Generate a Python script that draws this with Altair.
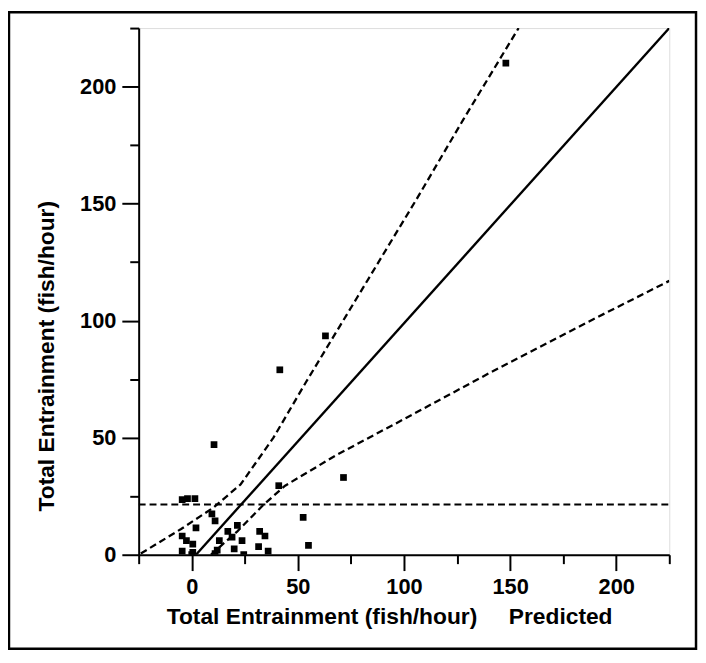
import altair as alt
import pandas as pd

# Observed vs predicted entrainment (fish/hour)
obs_x = [148, 63, 41.5, 10.5, 41, 71.5, 52.5, 55, -4.5, -2, 1.5, 9.5, 11, 2, -4.5, -2.5,
         0.5, -4.5, 0.5, 17, 21.5, 13, 19, 20, 12, 23.7, 32, 34.5, 31.5, 36, 0, 11, 24.5]
obs_y = [210, 93.5, 79, 47, 29.5, 33, 16, 4, 23.5, 24, 24, 17.5, 14.5, 11.5, 8, 6,
         4.5, 1.5, 1, 10, 12.5, 6, 7.5, 2.5, 2, 6, 10, 8, 3.5, 1.5, 0, 0.5, 0]

# 1:1 line
solid_x = [2, 225]
solid_y = [0, 225]

# upper and lower dashed limits
upper_x = [-24, -5, 10, 23, 38.5, 54, 78, 106, 128, 154]
upper_y = [0.5, 11, 20, 30, 50, 74, 110, 152, 186, 225]
lower_x = [9, 21.5, 34, 44, 68, 96, 140, 189, 225]
lower_y = [0, 10, 21.5, 29.5, 42.5, 56, 77.5, 100.5, 117]

# horizontal dashed reference
hline_x = [-25, 225]
hline_y = [21.5, 21.5]

x_ticks = [-25, 0, 25, 50, 75, 100, 125, 150, 175, 200, 225]
y_ticks = [0, 25, 50, 75, 100, 125, 150, 175, 200, 225]

FONT = "Liberation Sans"
NB = "\u00a0"

pts = pd.DataFrame({"x": obs_x, "y": obs_y})
solid = pd.DataFrame({"x": solid_x, "y": solid_y})
upper = pd.DataFrame({"x": upper_x, "y": upper_y})
lower = pd.DataFrame({"x": lower_x, "y": lower_y})
hline = pd.DataFrame({"x": hline_x, "y": hline_y})

major_test = "datum.value % 50 === 0"

xscale = alt.Scale(domain=[-25, 225], nice=False, zero=False)
yscale = alt.Scale(domain=[0, 225], nice=False, zero=False)

xaxis = alt.Axis(
    values=x_ticks,
    title="Total Entrainment (fish/hour)" + NB * 5 + "Predicted",
    labelExpr=f"{major_test} ? datum.label : ''",
    tickSize={"condition": {"test": major_test, "value": 16}, "value": 9},
    grid=False, domainColor="black", domainWidth=2, tickColor="black", tickWidth=2,
    labelFont=FONT, labelFontSize=22, labelFontWeight="bold", labelColor="black",
    labelPadding=6, titleFont=FONT, titleFontSize=23, titleFontWeight="bold",
    titleColor="black", titleX=253, titleY=62, titleBaseline="middle",
    titleAnchor="middle", titleAlign="center", labelFlush=False,
)
yaxis = alt.Axis(
    values=y_ticks,
    title="Total Entrainment (fish/hour)",
    labelExpr=f"{major_test} ? datum.label : ''",
    tickSize={"condition": {"test": major_test, "value": 17}, "value": 9},
    grid=False, domainColor="black", domainWidth=2, tickColor="black", tickWidth=2,
    labelFont=FONT, labelFontSize=22, labelFontWeight="bold", labelColor="black",
    labelPadding=6, titleFont=FONT, titleFontSize=23, titleFontWeight="bold",
    titleColor="black", titleX=-93, titleY=331, titleBaseline="middle",
    titleAlign="center", labelFlush=False,
)

base_x = alt.X("x:Q", scale=xscale, axis=xaxis)
base_y = alt.Y("y:Q", scale=yscale, axis=yaxis)

points = alt.Chart(pts).mark_square(size=46, color="black", opacity=1, clip=True).encode(
    x=base_x, y=base_y)

solid_line = alt.Chart(solid).mark_line(color="black", strokeWidth=2.4, clip=True).encode(
    x="x:Q", y="y:Q")

dash = [7, 4]
upper_line = alt.Chart(upper).mark_line(color="black", strokeWidth=2.3, strokeDash=dash,
                                        clip=True).encode(x="x:Q", y="y:Q")
lower_line = alt.Chart(lower).mark_line(color="black", strokeWidth=2.3, strokeDash=dash,
                                        clip=True).encode(x="x:Q", y="y:Q")
h_line = alt.Chart(hline).mark_line(color="black", strokeWidth=2, strokeDash=dash,
                                    clip=True).encode(x="x:Q", y="y:Q")

frame = alt.Chart(pd.DataFrame({"a": [0]})).mark_rect(
    filled=False, stroke="black", strokeWidth=2.5, fill=None).encode(
    x=alt.value(-131), x2=alt.value(563), y=alt.value(-16), y2=alt.value(627))

chart = alt.layer(points, solid_line, upper_line, lower_line, h_line, frame).properties(
    width=536, height=532,
    autosize=alt.AutoSizeParams(type="none"),
    padding={"left": 132, "top": 17, "right": 29, "bottom": 97},
).configure_view(stroke="black", strokeWidth=2).configure(background="white")

chart.save("out.html", embed_options={"renderer": "svg", "actions": False})
